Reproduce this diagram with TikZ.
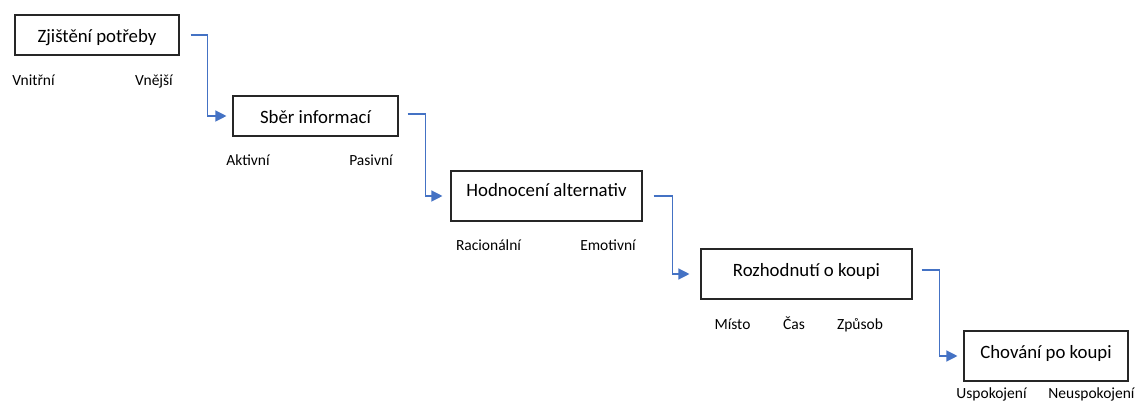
\documentclass[tikz,border=0pt]{standalone}
\usepackage{fontspec}
\setmainfont{Carlito}
\usetikzlibrary{arrows.meta}
\definecolor{conncol}{HTML}{4472C4}
\tikzset{
  box/.style={draw=black!85, line width=1.1pt, minimum width=#1, minimum height=40pt, inner sep=0pt},
  boxtext/.style={anchor=base, font=\fontsize{18.8}{22}\selectfont, inner sep=0pt},
  lab/.style={anchor=base, font=\fontsize{15.5}{18}\selectfont, inner sep=0pt},
  conn/.style={draw=conncol, line width=1.2pt, -{Triangle[length=11pt,width=11pt]}}
}
\begin{document}
\begin{tikzpicture}[x=1pt,y=-1pt]
\useasboundingbox (0,0) rectangle (1143,403);
% boxes
\node[box=164pt, minimum height=40pt] (b1) at (97,35) {};
\node[box=165pt, minimum height=40pt] (b2) at (315.5,116) {};
\node[box=191pt, minimum height=50pt] (b3) at (546.5,196) {};
\node[box=211pt, minimum height=50pt] (b4) at (806.5,274) {};
\node[box=164pt, minimum height=50pt] (b5) at (1046,356) {};
% box texts
\node[boxtext] (t1) at (97,43) {Zjištění potřeby};
\node[boxtext] (t2) at (315.5,124) {Sběr informací};
\node[boxtext] (t3) at (546.5,197) {Hodnocení alternativ};
\node[boxtext] (t4) at (806.5,277) {Rozhodnutí o koupi};
\node[boxtext] (t5) at (1046,358) {Chování po koupi};
% labels
\node[lab] (l1a) at (33.5,86) {Vnitřní};
\node[lab] (l1b) at (154,86) {Vnější};
\node[lab] (l2a) at (248,166) {Aktivní};
\node[lab] (l2b) at (371,166) {Pasivní};
\node[lab] (l3a) at (488.5,250.5) {Racionální};
\node[lab] (l3b) at (608,250.5) {Emotivní};
\node[lab] (l4a) at (732.5,330) {Místo};
\node[lab] (l4b) at (794,330) {Čas};
\node[lab] (l4c) at (860,330) {Způsob};
\node[lab] (l5a) at (991.5,398) {Uspokojení};
\node[lab] (l5b) at (1091.5,398) {Neuspokojení};
% connectors
\draw[conn] ([xshift=11pt]b1.east) -- ++(17,0) |- ([xshift=-6pt]b2.west);
\draw[conn] ([xshift=9pt,yshift=2pt]b2.east) -- ++(18,0) |- ([xshift=-8pt]b3.west);
\draw[conn] ([xshift=11pt]b3.east) -- ++(19,0) |- ([xshift=-11pt]b4.west);
\draw[conn] ([xshift=9pt,yshift=4pt]b4.east) -- ++(18,0) |- ([xshift=-6pt]b5.west);
\end{tikzpicture}
\end{document}
